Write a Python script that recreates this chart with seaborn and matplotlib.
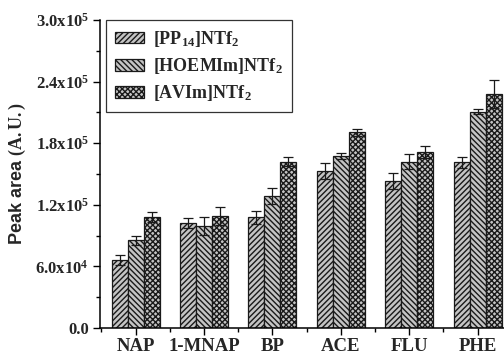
import numpy as np
import pandas as pd
import matplotlib
matplotlib.use("Agg")
import matplotlib.pyplot as plt
from matplotlib.ticker import FixedLocator, FixedFormatter
import seaborn as sns

categories = ["NAP", "1-MNAP", "BP", "ACE", "FLU", "PHE"]
series_labels = [r"[PP$_{14}$]NTf$_{2}$", r"[HOEMIm]NTf$_{2}$", r"[AVIm]NTf$_{2}$"]
pp14 = [66200, 102000, 107800, 152900, 143200, 161400]
hoemim = [85400, 99400, 128600, 167500, 162000, 210700]
avim = [108100, 109000, 162000, 190600, 171700, 227600]
pp14_err = [5200, 4900, 6200, 8100, 8100, 5200]
hoemim_err = [4500, 9000, 8100, 2900, 7500, 2400]
avim_err = [4500, 8600, 4100, 3700, 5800, 13800]
ytick_values = [0, 60000, 120000, 180000, 240000, 300000]
ytick_labels = ["0.0", r"6.0x10$^{4}$", r"1.2x10$^{5}$", r"1.8x10$^{5}$",
                r"2.4x10$^{5}$", r"3.0x10$^{5}$"]

values = [pp14, hoemim, avim]
errors = [pp14_err, hoemim_err, avim_err]
rows = []
for lab, vals in zip(series_labels, values):
    for c, v in zip(categories, vals):
        rows.append({"compound": c, "IL": lab, "area": v})
df = pd.DataFrame(rows)

sns.set_style("ticks")
plt.rcParams["font.family"] = ["Liberation Serif", "DejaVu Serif"]
plt.rcParams["font.weight"] = "bold"
plt.rcParams["mathtext.fontset"] = "custom"
plt.rcParams["mathtext.rm"] = "Liberation Serif:bold"
plt.rcParams["mathtext.it"] = "Liberation Serif:italic:bold"
plt.rcParams["mathtext.bf"] = "Liberation Serif:bold"
plt.rcParams["mathtext.default"] = "rm"
plt.rcParams["hatch.linewidth"] = 1.0
plt.rcParams["hatch.color"] = "#606060"

fig = plt.figure(figsize=(5.04, 3.54), dpi=100)
ax = fig.add_axes([100/504, 26/354, 404/504, 308/354])

sns.barplot(data=df, x="compound", y="area", hue="IL", order=categories,
            hue_order=series_labels, palette=["#c4c4c4"] * 3, width=0.7,
            errorbar=None, edgecolor="black", linewidth=0.9, saturation=1,
            legend=False, ax=ax)

bar_containers = list(ax.containers)
hatches = ["//////", "\\\\\\\\\\\\", "xxxxxx"]
for cont, h, errs in zip(bar_containers, hatches, errors):
    xs, ys = [], []
    for p in cont.patches:
        p.set_hatch(h)
        p.set_edgecolor("#1a1a1a")
        xs.append(p.get_x() + p.get_width() / 2)
        ys.append(p.get_height())
    ax.errorbar(xs, ys, yerr=errs, fmt="none", ecolor="#1a1a1a", elinewidth=0.9,
                capsize=3.5, capthick=0.9, zorder=5)

ax.set_xlim(-0.52, 5.385)
ax.set_ylim(0, 300000)
ax.yaxis.set_major_locator(FixedLocator(ytick_values))
ax.yaxis.set_major_formatter(FixedFormatter(ytick_labels))
ax.yaxis.set_minor_locator(FixedLocator([30000, 90000, 150000, 210000, 270000]))
ax.xaxis.set_minor_locator(FixedLocator(np.arange(-0.5, 6, 1.0)))
ax.tick_params(axis="both", which="major", direction="out", length=5, width=1, color="black")
ax.tick_params(axis="both", which="minor", direction="out", length=3, width=1, color="black")
ax.tick_params(axis="y", labelsize=12, pad=3)
ax.tick_params(axis="x", labelsize=13.5, pad=2)
for lbl in ax.get_xticklabels() + ax.get_yticklabels():
    lbl.set_fontweight("bold")

ax.set_xlabel("")
ax.set_ylabel(r"Peak area $\mathrm{(A.U.)}$", fontsize=13, fontweight="bold",
              family=["Liberation Sans", "DejaVu Sans"], labelpad=5)

for s in ["top", "right"]:
    ax.spines[s].set_visible(False)
for s in ["left", "bottom"]:
    ax.spines[s].set_linewidth(1.1)
    ax.spines[s].set_color("black")

handles = [c.patches[0] for c in bar_containers]
leg = ax.legend(handles, series_labels, loc="upper left",
                bbox_to_anchor=(0.016, 1.0), frameon=True, fancybox=False,
                edgecolor="black", prop={"size": 13, "weight": "bold"},
                handlelength=1.6, handleheight=0.6, labelspacing=0.4,
                handletextpad=0.5, borderpad=0.5, borderaxespad=0)
leg.get_frame().set_linewidth(0.9)

fig.savefig("out.png", dpi=100)
